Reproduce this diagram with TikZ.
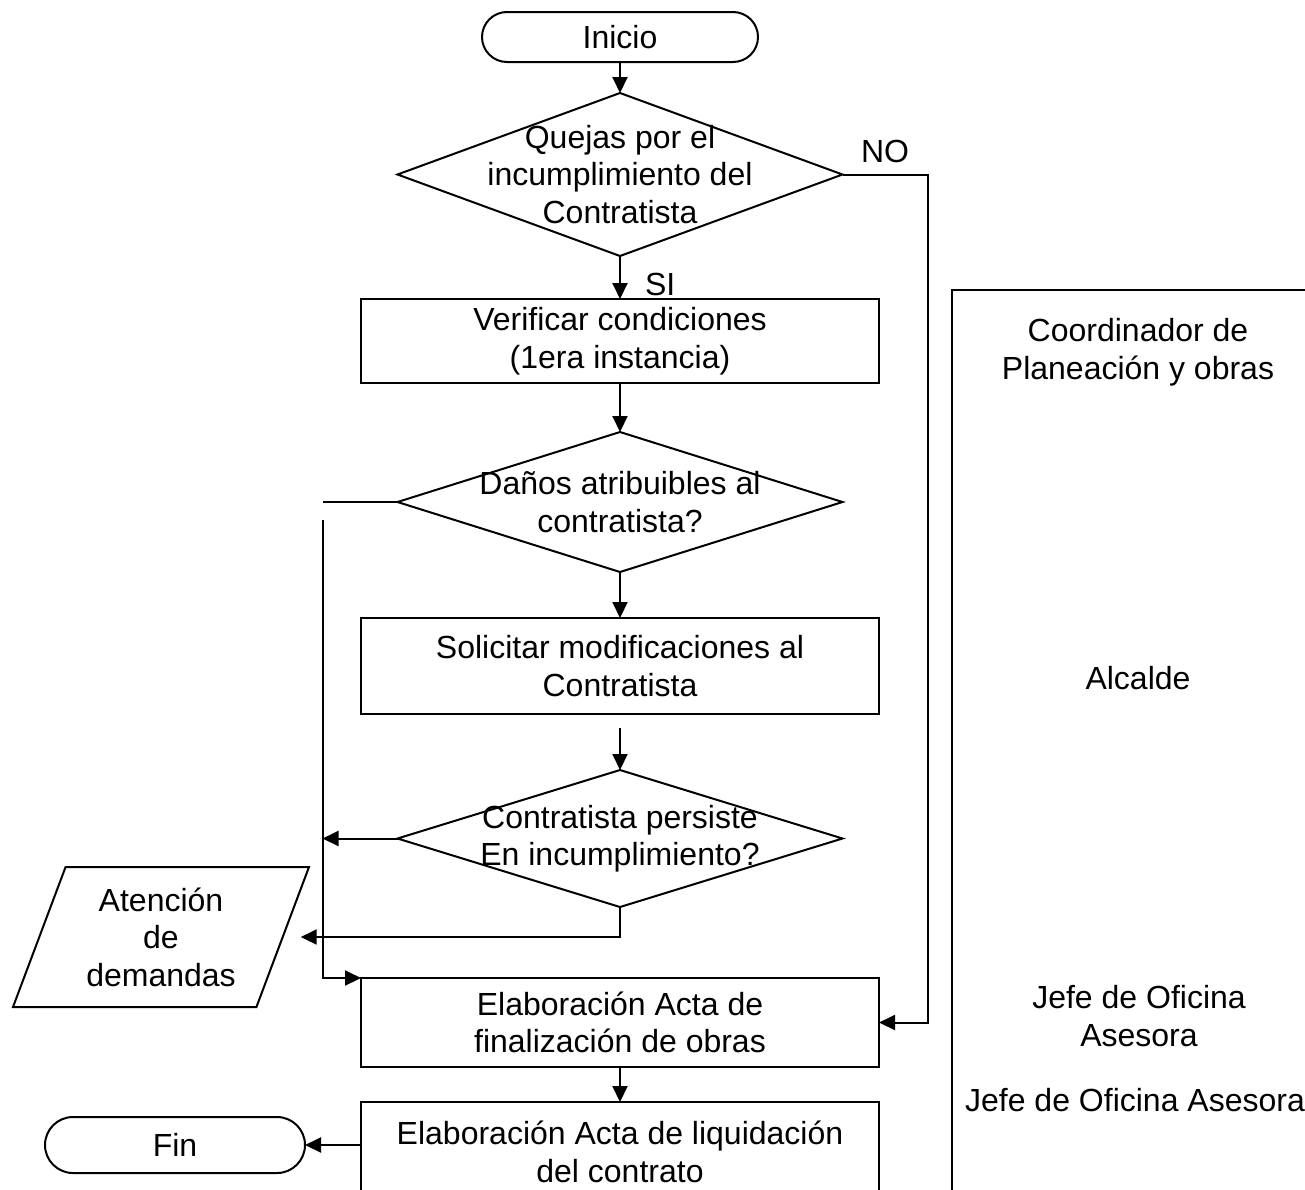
\documentclass[tikz,border=0pt]{standalone}
\usepackage{fontspec}
\setmainfont{Liberation Sans}
\usetikzlibrary{shapes.geometric,arrows.meta,positioning}

\begin{document}
\begin{tikzpicture}[
  x=1pt, y=-1pt,
  every node/.style={font=\fontsize{32}{37.5}\selectfont, outer sep=0pt},
  term/.style={draw, line width=2pt, rounded corners=25pt,
               minimum width=276pt, minimum height=50pt},
  proc/.style={draw, line width=2pt, align=center, inner sep=0pt,
               minimum width=518pt},
  dec/.style={draw, diamond, line width=2pt, inner sep=0pt,
              minimum width=445pt},
  dtext/.style={align=center, inner sep=0pt},
  iobox/.style={draw, trapezium, trapezium left angle=62,
                trapezium right angle=118, trapezium stretches body,
                line width=2pt, align=center, inner sep=0pt,
                minimum width=296pt, minimum height=140pt},
  role/.style={align=center, inner sep=0pt},
  lbl/.style={inner sep=0pt},
  line/.style={line width=2pt},
  arrow/.style={-{Triangle[length=16pt,width=15pt]}, line width=2pt},
]
\useasboundingbox (0,0) rectangle (1305,1189);
\clip (0,0) rectangle (1305,1189);

% main column
\node[term] (ini) at (620,37) {Inicio};
\node[dec, minimum height=163pt, below=31pt of ini,
      label={[dtext]center:{Quejas por el\\incumplimiento del\\Contratista}}] (d1) {};
\node[proc, minimum height=84pt, below=43pt of d1] (b1)
  {Verificar condiciones\\(1era instancia)};
\node[dec, minimum height=140pt, below=49pt of b1,
      label={[dtext]center:{Daños atribuibles al\\contratista?}}] (d2) {};
\node[proc, minimum height=96pt, below=46pt of d2] (b2)
  {Solicitar modificaciones al\\Contratista};
\node[dec, minimum height=137pt, below=56pt of b2,
      label={[dtext]center:{Contratista persiste\\En incumplimiento?}}] (d3) {};
\node[proc, minimum height=89pt, below=71pt of d3] (b5)
  {Elaboración Acta de\\finalización de obras};
\node[proc, minimum height=100pt, below=35pt of b5] (b6)
  {Elaboración Acta de liquidación\\del contrato};

% side nodes
\node[iobox] (dem) at (161,937) {Atención\\de\\demandas};
\node[term, minimum width=260pt, minimum height=56pt,
      rounded corners=28pt] (fin) at (175,1145) {Fin};

% roles
\draw[line] (952,290) rectangle (1340,1230);
\node[role] (coord) at (1138,352) {Coordinador de\\Planeación y obras};
\node[role] (alc) at (1138,678) {Alcalde};
\node[role] (jefe) at (1139,1016) {Jefe de Oficina\\Asesora};
\node[role] (jefeb) at (1135,1100) {Jefe de Oficina Asesora};

% connectors
\draw[arrow] (ini) -- (d1);
\draw[arrow] (d1) -- node[lbl, pos=0.67, anchor=west, xshift=25pt] (si) {SI} (b1);
\draw[arrow] (d1.east) -- node[lbl, above=12pt] (no) {NO} ++(85pt,0) |- (b5.east);
\draw[arrow] (b1) -- (d2);
\draw[line] (d2.west) -- ++(-75pt,0) coordinate (dj);
\draw[arrow] ([yshift=-18pt]dj) |- (b5.north west);
\draw[arrow] (d2) -- (b2);
\draw[arrow] (b2.south) ++(0,-14pt) -- (d3.north);
\draw[arrow] (d3.west) -- (d3.west -| dj);
\draw[arrow] (d3.south) |- ([xshift=18pt]dem.east);
\draw[arrow] (b5) -- (b6);
\draw[arrow] (b6.west |- fin.east) -- (fin.east);
\end{tikzpicture}
\end{document}
